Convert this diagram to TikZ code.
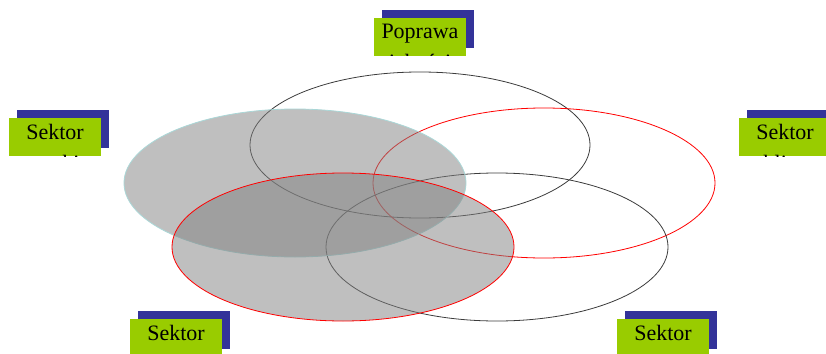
\documentclass[tikz,border=0pt]{standalone}
\usepackage{fontspec}
\setmainfont{Liberation Serif}
\usetikzlibrary{shadows}
\definecolor{boxgreen}{RGB}{153,204,0}
\definecolor{boxblue}{RGB}{51,51,153}
\definecolor{rimcyan}{RGB}{170,215,215}
\definecolor{rimgray}{RGB}{60,60,60}
\newcommand{\boxfont}{\rmfamily\fontsize{22}{26}\selectfont}
\tikzset{
  labelbox/.style={fill=boxgreen, minimum width=92pt, minimum height=38pt, inner sep=0pt,
    text height=12pt, text depth=8pt, font=\boxfont,
    general shadow={fill=boxblue, shadow xshift=8pt, shadow yshift=8pt}},
  cutline/.style={path picture={\node[font=\boxfont, anchor=base, fill=none, draw=none]
    at ([yshift=-33pt]path picture bounding box.center) {#1};}}
}
\begin{document}
\begin{tikzpicture}[x=1pt, y=-1pt]
                   
    \clip (0,0) rectangle (826,353);

    \draw[rimgray, line width=0.8pt] (420,145) ellipse [x radius=170, y radius=73];
    \draw[red, line width=0.8pt] (544,183) ellipse [x radius=171, y radius=75];
    \draw[rimgray, line width=0.8pt] (497,247) ellipse [x radius=171, y radius=74];
    \draw[rimcyan, line width=0.8pt, fill=gray, fill opacity=0.5] (295,183) ellipse [x radius=171, y radius=74];
    \draw[red, line width=0.8pt, fill=gray, fill opacity=0.5] (343,247) ellipse [x radius=171, y radius=74];

    \node[labelbox, cutline=jakości] (quality) at (420,37) {Poprawa};
    \node[labelbox, cutline=nauki] (science) at (55,137) {Sektor};
    \node[labelbox, cutline=publiczny] (public) at (785,137) {Sektor};
    \node[labelbox, cutline=finansowy] (finance) at (176,338) {Sektor};
    \node[labelbox, cutline=prywatny] (private) at (663,338) {Sektor};

\end{tikzpicture}
\end{document}
